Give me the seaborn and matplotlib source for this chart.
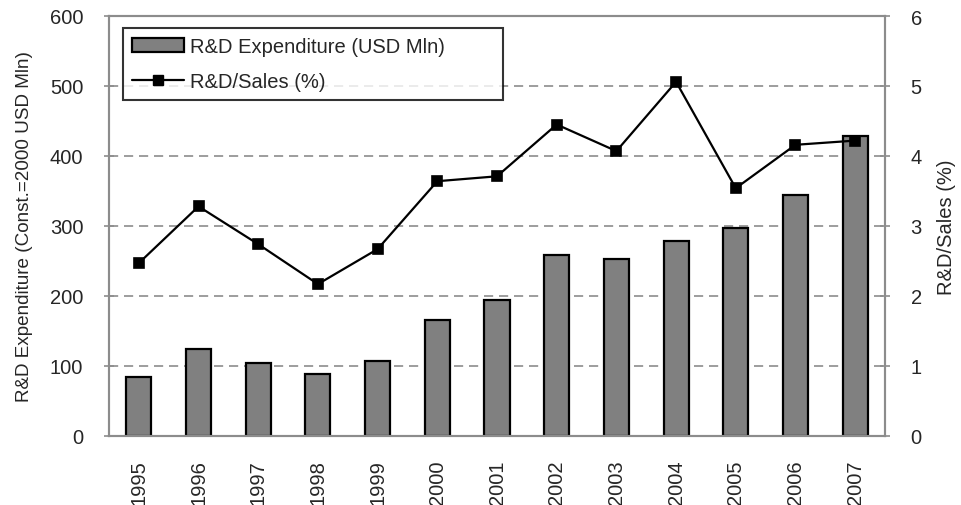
import numpy as np
import pandas as pd
import matplotlib
matplotlib.use("Agg")
import matplotlib.pyplot as plt
import seaborn as sns
from matplotlib.patches import Patch
from matplotlib.lines import Line2D

years = ["1995", "1996", "1997", "1998", "1999", "2000", "2001",
         "2002", "2003", "2004", "2005", "2006", "2007"]
rd_expenditure = [85, 124, 104, 88, 107, 166, 194, 258, 253, 279, 297, 344, 429]
rd_sales_pct = [2.47, 3.28, 2.74, 2.17, 2.67, 3.64, 3.71, 4.45, 4.07, 5.06, 3.54, 4.16, 4.22]
left_ticks = [0, 100, 200, 300, 400, 500, 600]
right_ticks = [0, 1, 2, 3, 4, 5, 6]

sns.set_style("white")
plt.rcParams["font.family"] = ["Liberation Sans", "DejaVu Sans"]
FS = 14.5
GRAY = "#8c8c8c"

df = pd.DataFrame({"year": years, "rd": rd_expenditure, "ratio": rd_sales_pct})

fig = plt.figure(figsize=(9.61, 5.06), dpi=100)
ax = fig.add_axes([109 / 961, 1 - 437 / 506, (885 - 109) / 961, (437 - 17) / 506])

sns.barplot(data=df, x="year", y="rd", color="#808080", saturation=1,
            edgecolor="black", linewidth=1.6, width=0.42, ax=ax, zorder=2)

ax2 = ax.twinx()
sns.pointplot(data=df, x="year", y="ratio", color="black", markers="s",
              markersize=6.5, linewidth=1.6, ax=ax2, zorder=3)

n = len(years)
for a in (ax, ax2):
    a.set_xlim(-0.5, n - 0.5)
    a.set_xlabel("")
ax.set_ylim(0, 600)
ax2.set_ylim(0, 6)
ax.set_yticks(left_ticks)
ax2.set_yticks(right_ticks)
ax.set_yticklabels([str(v) for v in left_ticks], fontsize=FS)
ax2.set_yticklabels([str(v) for v in right_ticks], fontsize=FS)

ax.set_xticks(range(n))
ax.set_xticklabels(years, rotation=90, fontsize=FS)
ax.set_xticks(np.arange(-0.5, n, 1.0), minor=True)
ax.tick_params(axis="x", which="major", length=0, pad=17)
ax.tick_params(axis="x", which="minor", direction="out", length=4.5, width=1.2, color=GRAY)
ax2.tick_params(axis="x", which="both", length=0, labelbottom=False)

ax.tick_params(axis="y", direction="inout", length=7, width=1.2, color=GRAY, pad=15,
               left=True, labelleft=True)
ax2.tick_params(axis="y", direction="inout", length=7, width=1.2, color=GRAY, pad=15,
                right=True, labelright=True)

ax.yaxis.grid(True, linestyle=(0, (5.5, 3.5)), color=GRAY, linewidth=1.2)
ax.xaxis.grid(False)
ax2.grid(False)
ax.set_axisbelow(True)

for a in (ax, ax2):
    for s in a.spines.values():
        s.set_visible(True)
        s.set_color(GRAY)
        s.set_linewidth(1.5)

ax.set_ylabel("R&D Expenditure (Const.=2000 USD Mln)", fontsize=13.6, labelpad=12)
ax2.set_ylabel("R&D/Sales (%)", fontsize=14.5, labelpad=11)

handles = [
    Patch(facecolor="#808080", edgecolor="black", linewidth=1.6),
    Line2D([0], [0], color="black", marker="s", markersize=6.5, linewidth=1.6),
]
labels = ["R&D Expenditure (USD Mln)", "R&D/Sales (%)"]
leg = ax2.legend(handles, labels, loc="upper left",
                 bbox_to_anchor=(13.7 / 776, 0.80, 380 / 776, 0.1714),
                 mode="expand", fontsize=FS, frameon=True, fancybox=False,
                 edgecolor="black", handlelength=2.6, handletextpad=0.3,
                 labelspacing=0.8, borderpad=0.45, borderaxespad=0)
leg.get_frame().set_linewidth(1.5)

fig.savefig("out.png", dpi=100)
